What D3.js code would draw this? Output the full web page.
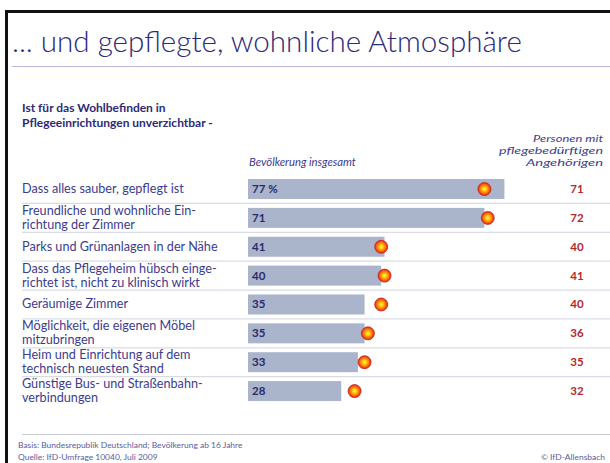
<!DOCTYPE html>
<html><head><meta charset="utf-8">
<script src="https://cdn.jsdelivr.net/npm/d3@7"></script>
<style>
html,body{margin:0;padding:0;background:#fff;}
svg{display:block;}
text{font-family:Lato,"Open Sans","DejaVu Sans",sans-serif;}
</style></head>
<body><svg id="c" width="610" height="463"></svg>
<script>
const title = "... und gepflegte, wohnliche Atmosphäre";
const subtitle = ["Ist für das Wohlbefinden in", "Pflegeeinrichtungen unverzichtbar -"];
const headerLeft = "Bevölkerung insgesamt";
const headerRight = ["Personen mit", "pflegebedürftigen", "Angehörigen"];
const categories = [
  ["Dass alles sauber, gepflegt ist"],
  ["Freundliche und wohnliche Ein-", "richtung der Zimmer"],
  ["Parks und Grünanlagen in der Nähe"],
  ["Dass das Pflegeheim hübsch einge-", "richtet ist, nicht zu klinisch wirkt"],
  ["Geräumige Zimmer"],
  ["Möglichkeit, die eigenen Möbel", "mitzubringen"],
  ["Heim und Einrichtung auf dem", "technisch neuesten Stand"],
  ["Günstige Bus- und Straßenbahn-", "verbindungen"]
];
const populationValues = [77, 71, 41, 40, 35, 35, 33, 28];
const relativesValues = [71, 72, 40, 41, 40, 36, 35, 32];
const footer = ["Basis: Bundesrepublik Deutschland; Bevölkerung ab 16 Jahre", "Quelle: IfD-Umfrage 10040, Juli 2009"];
const credit = "© IfD-Allensbach";

const svg = d3.select("#c");
const navy = "#2d2a78", labelC = "#3c3c8e", barC = "#aab4cb", sepC = "#d9dce5", red = "#b3282c";

function fit(sel, target){
  const w = sel.node().getComputedTextLength();
  const fs = parseFloat(sel.attr("font-size"));
  return fs * target / w;
}

// frame
svg.append("path").attr("d","M6.5,463 V11.5 H610").attr("fill","none").attr("stroke","#111").attr("stroke-width",3);

// title
const t = svg.append("text").attr("x",12).attr("y",52).attr("font-size",22).attr("font-weight",300).attr("fill",navy).text(title);
t.attr("font-size", fit(t, 510));
svg.append("line").attr("x1",12).attr("x2",610).attr("y1",66.5).attr("y2",66.5).attr("stroke","#b9b8dc").attr("stroke-width",1.2);

// scales
const x = d3.scaleLinear().domain([0,100]).range([248,581]);
const y = d3.scaleBand().domain(d3.range(categories.length)).range([174.6,405.5]).paddingInner(0.307).paddingOuter(0.1535);

// labels
const lg = svg.append("g");
categories.forEach((lines,i)=>{
  const cy = y(i)+y.bandwidth()/2;
  const n = lines.length;
  lines.forEach((s,j)=>{
    lg.append("text").attr("x",22).attr("y",cy + (j-(n-1)/2)*14 + 3.9)
      .attr("font-size",11).attr("fill",labelC).text(s);
  });
});
const lfs = fit(lg.select("text"),162);
lg.selectAll("text").attr("font-size", lfs);

// subtitle
subtitle.forEach((s,i)=>svg.append("text").attr("x",22).attr("y",112+i*14.6)
  .attr("font-size",12).attr("font-weight","bold").attr("fill",navy).text(s));

// headers
const hl = svg.append("text").attr("x",x(0)+1).attr("y",166).attr("font-size",10).attr("font-style","italic").attr("fill",labelC).text(headerLeft);
hl.attr("font-size", fit(hl,107));
const hrW = [70, 104, 77];
headerRight.forEach((s,i)=>svg.append("text").attr("x",603).attr("y",141.5+i*12).attr("text-anchor","end")
  .attr("font-size",9.6).attr("font-style","italic").attr("fill",labelC)
  .attr("textLength",hrW[i]).attr("lengthAdjust","spacingAndGlyphs").text(s));

// separators
svg.append("g").selectAll("line").data(d3.range(categories.length-1)).join("line")
  .attr("x1",22).attr("x2",610)
  .attr("y1",i=>y(i)+y.bandwidth()/2+y.step()/2).attr("y2",i=>y(i)+y.bandwidth()/2+y.step()/2)
  .attr("stroke",sepC).attr("stroke-width",1.2);

// bars
svg.append("g").selectAll("rect").data(populationValues).join("rect")
  .attr("x",x(0)).attr("y",(d,i)=>y(i)).attr("width",d=>x(d)-x(0)).attr("height",y.bandwidth())
  .attr("fill",barC);
svg.append("g").selectAll("text").data(populationValues).join("text")
  .attr("x",x(0)+4).attr("y",(d,i)=>y(i)+y.bandwidth()/2+4)
  .attr("font-size",11.5).attr("font-weight","bold").attr("fill","#2a2a6a")
  .text((d,i)=>i===0? d+" %" : d);

// dots
const defs = svg.append("defs");
const gr = defs.append("radialGradient").attr("id","dot").attr("cx","50%").attr("cy","50%").attr("r","50%");
gr.append("stop").attr("offset","0%").attr("stop-color","#fff27a");
gr.append("stop").attr("offset","35%").attr("stop-color","#ffc400");
gr.append("stop").attr("offset","70%").attr("stop-color","#ff6a10");
gr.append("stop").attr("offset","100%").attr("stop-color","#d8201c");
svg.append("g").selectAll("circle").data(relativesValues).join("circle")
  .attr("cx",d=>x(d)).attr("cy",(d,i)=>y(i)+y.bandwidth()/2).attr("r",6.5)
  .attr("fill","url(#dot)").attr("stroke","#c8241e").attr("stroke-width",0.8);

// right values
svg.append("g").selectAll("text").data(relativesValues).join("text")
  .attr("x",577).attr("y",(d,i)=>y(i)+y.bandwidth()/2+4).attr("text-anchor","middle")
  .attr("font-size",11.5).attr("font-weight","bold").attr("fill",red).text(d=>d);

// footer
svg.append("line").attr("x1",22).attr("x2",610).attr("y1",434.5).attr("y2",434.5).attr("stroke","#c9cbdb").attr("stroke-width",1.2);
const fg = svg.append("g");
footer.forEach((s,i)=>fg.append("text").attr("x",18).attr("y",448+i*11.5).attr("font-size",7).attr("fill","#5b5b9c").text(s));
const ffs = fit(fg.select("text"), 225);
fg.selectAll("text").attr("font-size", ffs);
svg.append("text").attr("x",605).attr("y",459.5).attr("text-anchor","end").attr("font-size",ffs).attr("fill","#5b5b9c").text(credit);
</script></body></html>
